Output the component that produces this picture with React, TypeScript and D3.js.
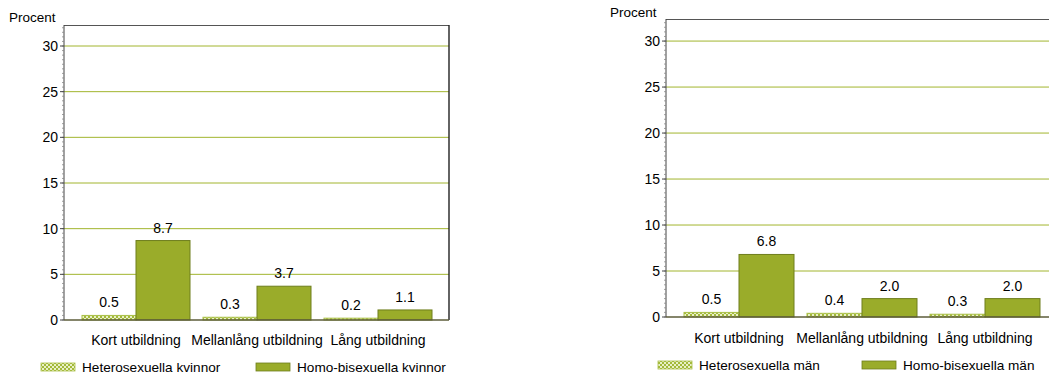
import React from "react";
import * as d3 from "d3";

const categories = ["Kort utbildning", "Mellanlång utbildning", "Lång utbildning"];
const womenSeries = ["Heterosexuella kvinnor", "Homo-bisexuella kvinnor"];
const womenHetero = [0.5, 0.3, 0.2];
const womenHomo = [8.7, 3.7, 1.1];
const menSeries = ["Heterosexuella män", "Homo-bisexuella män"];
const menHetero = [0.5, 0.4, 0.3];
const menHomo = [6.8, 2.0, 2.0];
const yTicks = [0, 5, 10, 15, 20, 25, 30];
const yLabel = "Procent";

const FONT = "'Liberation Sans', Arial, sans-serif";
const HOMO_FILL = "#9aac2a";
const HOMO_STROKE = "#6e7e1c";
const HET_STROKE = "#a9bf45";
const GRID = "#a2b52e";

type PanelCfg = {
  left: number; right: number; top: number; bottom: number; yMax: number;
  bandStart: number; bandEnd: number; barW: number;
  procentX: number; procentY: number; catY: number; legY: number;
  leg1X: number; leg2X: number; series: string[]; hetero: number[]; homo: number[];
  showRight: boolean;
};

function Panel({ c }: { c: PanelCfg }) {
  const y = d3.scaleLinear().domain([0, c.yMax]).range([c.bottom, c.top]);
  const x = d3.scaleBand<string>().domain(categories).range([c.bandStart, c.bandEnd]);
  const bw = x.bandwidth();
  const inner = d3.scaleBand<string>().domain(c.series)
    .range([(bw - 2 * c.barW) / 2, (bw + 2 * c.barW) / 2]);
  const minor = d3.range(0, c.yMax, 0.5);
  const values = [c.hetero, c.homo];
  return (
    <g fontFamily={FONT} fontSize={14} fill="#000">
      <text x={c.procentX} y={c.procentY} fontSize={13.5}>{yLabel}</text>
      {yTicks.filter(t => t > 0).map(t => (
        <line key={"g" + t} x1={c.left} x2={c.right} y1={y(t)} y2={y(t)} stroke={GRID} strokeWidth={1} />
      ))}
      <line x1={c.left} x2={c.right} y1={c.top + 0.5} y2={c.top + 0.5} stroke="#555" strokeWidth={1.2} />
      {c.showRight && <line x1={c.right} x2={c.right} y1={c.top} y2={c.bottom} stroke="#222" strokeWidth={1.4} />}
      <line x1={c.left} x2={c.left} y1={c.top} y2={c.bottom} stroke="#444" strokeWidth={1} />
      {minor.map(t => (
        <line key={"m" + t} x1={c.left - 2} x2={c.left} y1={y(t)} y2={y(t)} stroke="#888" strokeWidth={0.8} />
      ))}
      {yTicks.map(t => (
        <g key={"t" + t}>
          <line x1={c.left - 4} x2={c.left} y1={y(t)} y2={y(t)} stroke="#444" />
          <text x={c.left - 6} y={y(t)} dy="0.36em" textAnchor="end">{t}</text>
        </g>
      ))}
      {categories.map((cat, i) => (
        <g key={cat}>
          {c.series.map((s, si) => {
            const v = values[si][i];
            const bx = (x(cat) as number) + (inner(s) as number);
            const top = y(v);
            return (
              <g key={s}>
                <rect x={bx} y={top} width={c.barW} height={c.bottom - top}
                  fill={si === 0 ? "url(#checker)" : HOMO_FILL}
                  stroke={si === 0 ? HET_STROKE : HOMO_STROKE} strokeWidth={1} />
                <text x={bx + c.barW / 2} y={top - 8} textAnchor="middle">{v.toFixed(1)}</text>
              </g>
            );
          })}
          <text x={(x(cat) as number) + bw / 2} y={c.catY} textAnchor="middle">{cat}</text>
        </g>
      ))}
      <line x1={c.left} x2={c.right} y1={c.bottom} y2={c.bottom} stroke="#5c5c3a" strokeWidth={1.5} />
      <rect x={c.leg1X} y={c.legY - 9} width={34} height={8} fill="url(#checker)" stroke={HET_STROKE} strokeWidth={0.8} />
      <text x={c.leg1X + 41} y={c.legY} fontSize={13.6}>{c.series[0]}</text>
      <rect x={c.leg2X} y={c.legY - 9} width={34} height={8} fill={HOMO_FILL} stroke={HOMO_STROKE} strokeWidth={0.8} />
      <text x={c.leg2X + 41} y={c.legY} fontSize={13.6}>{c.series[1]}</text>
    </g>
  );
}

export default function App() {
  const leftCfg: PanelCfg = {
    left: 64, right: 449, top: 25, bottom: 320, yMax: 32.3,
    bandStart: 75.5, bandEnd: 438.5, barW: 54,
    procentX: 9, procentY: 22, catY: 345, legY: 372,
    leg1X: 41, leg2X: 256, series: womenSeries, hetero: womenHetero, homo: womenHomo,
    showRight: true,
  };
  const rightCfg: PanelCfg = {
    left: 666, right: 1060, top: 19, bottom: 317, yMax: 32.4,
    bandStart: 677.5, bandEnd: 1046.5, barW: 55,
    procentX: 610, procentY: 17, catY: 343, legY: 370,
    leg1X: 658, leg2X: 862, series: menSeries, hetero: menHetero, homo: menHomo,
    showRight: false,
  };
  return (
    <svg width={1049} height={376} style={{ position: "absolute", left: 0, top: 0 }}>
      <defs>
        <pattern id="checker" width={4} height={4} patternUnits="userSpaceOnUse">
          <rect width={4} height={4} fill="#e9f0c8" />
          <rect width={2} height={2} fill="#a3b93a" />
          <rect x={2} y={2} width={2} height={2} fill="#a3b93a" />
        </pattern>
      </defs>
      <rect width={1049} height={376} fill="#fff" />
      <Panel c={leftCfg} />
      <Panel c={rightCfg} />
    </svg>
  );
}
